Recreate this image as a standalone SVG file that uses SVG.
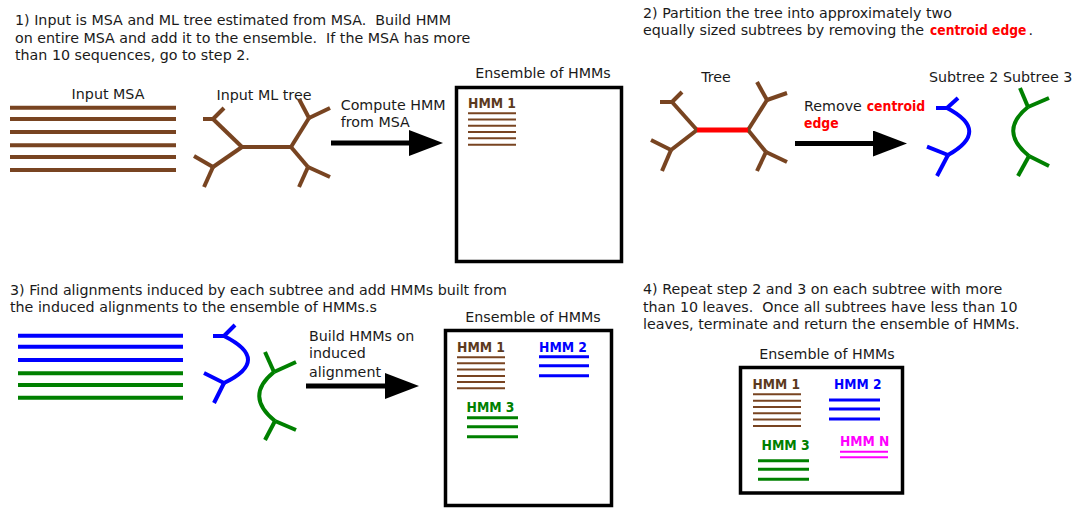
<svg xmlns="http://www.w3.org/2000/svg" width="1076" height="508" viewBox="0 0 1076 508">
<defs>
<style>
text{font-family:"DejaVu Sans","Liberation Sans",sans-serif;font-size:14.25px;fill:#1a1a1a}
.b{font-weight:bold;font-size:14.5px}
.red{fill:#ff0000;font-weight:bold;font-size:14px}
.br{stroke:#784421;fill:none}
.bl{stroke:#0000ff;fill:none}
.gr{stroke:#008000;fill:none}
.mg{stroke:#ff00ff;fill:none}
.t4{stroke-width:4}
.t3{stroke-width:3}
.t2{stroke-width:2}
.box{fill:#fff;stroke:#000;stroke-width:3.5}
.arr{stroke:#000;stroke-width:5;fill:none}
</style>
<marker id="ah" markerUnits="userSpaceOnUse" markerWidth="34" markerHeight="26" viewBox="0 0 34 26" refX="0" refY="13" orient="auto">
<path d="M0,0 L34,13 L0,26 z" fill="#000"/>
</marker>
</defs>
<rect width="1076" height="508" fill="#fff"/>

<g id="step1-text">
<text x="15" y="25" xml:space="preserve">1) Input is MSA and ML tree estimated from MSA.  Build HMM</text>
<text x="15" y="42.5" xml:space="preserve">on entire MSA and add it to the ensemble.  If the MSA has more</text>
<text x="15" y="60" xml:space="preserve">than 10 sequences, go to step 2.</text>
</g>

<g id="input-msa">
<text x="108" y="99" text-anchor="middle">Input MSA</text>
<g class="br t4">
<line x1="10" y1="107.7" x2="176" y2="107.7"/>
<line x1="10" y1="119" x2="176" y2="119"/>
<line x1="10" y1="132" x2="176" y2="132"/>
<line x1="10" y1="145.3" x2="176" y2="145.3"/>
<line x1="10" y1="157" x2="176" y2="157"/>
<line x1="10" y1="170" x2="176" y2="170"/>
</g>
</g>

<g id="input-ml-tree">
<text x="264" y="100" text-anchor="middle">Input ML tree</text>
<g class="br t4">
<line x1="242" y1="147" x2="291" y2="147"/>
<line x1="242" y1="147" x2="213" y2="119"/>
<line x1="213" y1="119" x2="203" y2="119"/>
<line x1="213" y1="119" x2="224" y2="108"/>
<line x1="242" y1="147" x2="213" y2="167"/>
<line x1="213" y1="167" x2="194" y2="156"/>
<line x1="213" y1="167" x2="204" y2="187"/>
<line x1="291" y1="147" x2="309" y2="118"/>
<line x1="309" y1="118" x2="299" y2="99"/>
<line x1="309" y1="118" x2="330" y2="108"/>
<line x1="291" y1="147" x2="308" y2="167"/>
<line x1="308" y1="167" x2="330" y2="177"/>
<line x1="308" y1="167" x2="299" y2="187"/>
</g>
</g>

<g id="ensemble-1">
<text x="543" y="78" text-anchor="middle">Ensemble of HMMs</text>
<rect class="box" x="456.5" y="87.5" width="165" height="174"/>
<text class="b" x="468" y="107.7" textLength="48" lengthAdjust="spacingAndGlyphs" style="fill:#5c3a1e">HMM 1</text>
<g class="br t2">
<line x1="468" y1="113.3" x2="516" y2="113.3"/>
<line x1="468" y1="119.5" x2="516" y2="119.5"/>
<line x1="468" y1="125.7" x2="516" y2="125.7"/>
<line x1="468" y1="132" x2="516" y2="132"/>
<line x1="468" y1="138.3" x2="516" y2="138.3"/>
<line x1="468" y1="144.7" x2="516" y2="144.7"/>
</g>
</g>

<g id="step2-text">
<text x="643" y="17.5" xml:space="preserve">2) Partition the tree into approximately two</text>
<text x="643" y="35" xml:space="preserve">equally sized subtrees by removing the</text>
<text class="red" transform="translate(930,35) scale(0.88,1)">centroid edge</text>
<text x="1028.5" y="35">.</text>
</g>

<g id="tree">
<text x="716" y="82" text-anchor="middle">Tree</text>
<g class="br t4">
<line x1="697" y1="130" x2="672" y2="102"/>
<line x1="672" y1="102" x2="660" y2="102"/>
<line x1="672" y1="102" x2="682" y2="92"/>
<line x1="697" y1="130" x2="671" y2="150"/>
<line x1="671" y1="150" x2="651" y2="140"/>
<line x1="671" y1="150" x2="662" y2="171"/>
<line x1="748" y1="130" x2="767" y2="100"/>
<line x1="767" y1="100" x2="757" y2="82"/>
<line x1="767" y1="100" x2="787" y2="93"/>
<line x1="748" y1="130" x2="766" y2="152"/>
<line x1="766" y1="152" x2="787" y2="162"/>
<line x1="766" y1="152" x2="757" y2="171"/>
</g>
<line x1="697" y1="130" x2="748" y2="130" stroke="#ff0000" stroke-width="5"/>
</g>

<g id="remove-label">
<text x="804" y="110.7">Remove</text>
<text class="red" transform="translate(866.7,110.7) scale(0.89,1)">centroid</text>
<text class="red" transform="translate(804,128.3) scale(0.89,1)">edge</text>
</g>

<g id="subtrees">
<text x="929" y="82" xml:space="preserve">Subtree 2 Subtree 3</text>
<g class="bl t4">
<line x1="936" y1="108" x2="947" y2="108"/>
<line x1="947" y1="108" x2="958" y2="98"/>
<path d="M947,108 Q991,131 948,155"/>
<line x1="948" y1="155" x2="927" y2="146.7"/>
<line x1="948" y1="155" x2="937" y2="176"/>
</g>
<g class="gr t4">
<line x1="1020" y1="88" x2="1028" y2="107"/>
<line x1="1028" y1="107" x2="1049" y2="98"/>
<path d="M1028,107 Q998,131 1029,156"/>
<line x1="1029" y1="156" x2="1049" y2="166"/>
<line x1="1029" y1="156" x2="1018" y2="176"/>
</g>
</g>

<g id="step3-text">
<text x="10" y="295" xml:space="preserve">3) Find alignments induced by each subtree and add HMMs built from</text>
<text x="10" y="312.3" xml:space="preserve">the induced alignments to the ensemble of HMMs.s</text>
</g>

<g id="induced-alignments">
<g class="bl t4">
<line x1="18" y1="335.7" x2="183" y2="335.7"/>
<line x1="18" y1="346.7" x2="183" y2="346.7"/>
<line x1="18" y1="360" x2="183" y2="360"/>
</g>
<g class="gr t4">
<line x1="18" y1="373.3" x2="183" y2="373.3"/>
<line x1="18" y1="385" x2="183" y2="385"/>
<line x1="18" y1="397.7" x2="183" y2="397.7"/>
</g>
</g>

<g id="subtrees-3">
<g class="bl t4">
<line x1="213" y1="336" x2="224" y2="336"/>
<line x1="224" y1="336" x2="235" y2="325"/>
<path d="M224,336 Q272,360 224,383"/>
<line x1="224" y1="383" x2="204" y2="373"/>
<line x1="224" y1="383" x2="214" y2="403"/>
</g>
<g class="gr t4">
<line x1="265" y1="352" x2="274" y2="372"/>
<line x1="274" y1="372" x2="296" y2="362"/>
<path d="M274,372 Q244,396 275,421"/>
<line x1="275" y1="421" x2="296" y2="430"/>
<line x1="275" y1="421" x2="265" y2="440"/>
</g>
</g>

<g id="build-label">
<text x="309" y="340.7">Build HMMs on</text>
<text x="309" y="358.3">induced</text>
<text x="309" y="376.7">alignment</text>
</g>

<g id="ensemble-3">
<text x="533" y="321.7" text-anchor="middle">Ensemble of HMMs</text>
<rect class="box" x="445.5" y="330.5" width="166" height="175"/>
<text class="b" x="457" y="351.7" textLength="48" lengthAdjust="spacingAndGlyphs" style="fill:#5c3a1e">HMM 1</text>
<g class="br t2">
<line x1="457" y1="357.3" x2="505" y2="357.3"/>
<line x1="457" y1="363.3" x2="505" y2="363.3"/>
<line x1="457" y1="369.5" x2="505" y2="369.5"/>
<line x1="457" y1="376" x2="505" y2="376"/>
<line x1="457" y1="382" x2="505" y2="382"/>
<line x1="457" y1="388.3" x2="505" y2="388.3"/>
</g>
<text class="b" x="539" y="351.7" textLength="48" lengthAdjust="spacingAndGlyphs" style="fill:#0000ff">HMM 2</text>
<g class="bl t3">
<line x1="539" y1="356.7" x2="589" y2="356.7"/>
<line x1="539" y1="365.7" x2="589" y2="365.7"/>
<line x1="539" y1="375.7" x2="589" y2="375.7"/>
</g>
<text class="b" x="466.5" y="411.7" textLength="48" lengthAdjust="spacingAndGlyphs" style="fill:#008000">HMM 3</text>
<g class="gr t3">
<line x1="467" y1="417.7" x2="518" y2="417.7"/>
<line x1="467" y1="426.7" x2="518" y2="426.7"/>
<line x1="467" y1="436.7" x2="518" y2="436.7"/>
</g>
</g>

<g id="step4-text">
<text x="643" y="294" xml:space="preserve">4) Repeat step 2 and 3 on each subtree with more</text>
<text x="643" y="311.7" xml:space="preserve">than 10 leaves.  Once all subtrees have less than 10</text>
<text x="643" y="329.3" xml:space="preserve">leaves, terminate and return the ensemble of HMMs.</text>
</g>

<g id="ensemble-4">
<text x="827" y="359" text-anchor="middle">Ensemble of HMMs</text>
<rect class="box" x="740.5" y="367.5" width="162" height="125.5"/>
<text class="b" x="752.5" y="389" textLength="47.5" lengthAdjust="spacingAndGlyphs" style="fill:#5c3a1e">HMM 1</text>
<g class="br t2">
<line x1="753" y1="394.3" x2="801" y2="394.3"/>
<line x1="753" y1="400.7" x2="801" y2="400.7"/>
<line x1="753" y1="407" x2="801" y2="407"/>
<line x1="753" y1="413.3" x2="801" y2="413.3"/>
<line x1="753" y1="419.5" x2="801" y2="419.5"/>
<line x1="753" y1="426" x2="801" y2="426"/>
</g>
<text class="b" x="834" y="389" textLength="47.5" lengthAdjust="spacingAndGlyphs" style="fill:#0000ff">HMM 2</text>
<g class="bl t3">
<line x1="829" y1="400" x2="880" y2="400"/>
<line x1="829" y1="409" x2="880" y2="409"/>
<line x1="829" y1="419" x2="880" y2="419"/>
</g>
<text class="b" x="761.5" y="450" textLength="48.3" lengthAdjust="spacingAndGlyphs" style="fill:#008000">HMM 3</text>
<g class="gr t3">
<line x1="758" y1="460.7" x2="809" y2="460.7"/>
<line x1="758" y1="469.3" x2="809" y2="469.3"/>
<line x1="758" y1="479.3" x2="809" y2="479.3"/>
</g>
<text class="b" x="840" y="445.7" textLength="49.3" lengthAdjust="spacingAndGlyphs" style="fill:#ff00ff">HMM N</text>
<g class="mg t2">
<line x1="840" y1="451.7" x2="888" y2="451.7"/>
<line x1="840" y1="457.3" x2="888" y2="457.3"/>
</g>
</g>

<g id="connectors">
<text x="340.7" y="110">Compute HMM</text>
<text x="340.7" y="127">from MSA</text>
<line class="arr" x1="331" y1="143" x2="409" y2="143" marker-end="url(#ah)"/>
<line class="arr" x1="795" y1="143.5" x2="873" y2="143.5" marker-end="url(#ah)"/>
<line class="arr" x1="306" y1="386" x2="385" y2="386" marker-end="url(#ah)"/>
</g>
</svg>
